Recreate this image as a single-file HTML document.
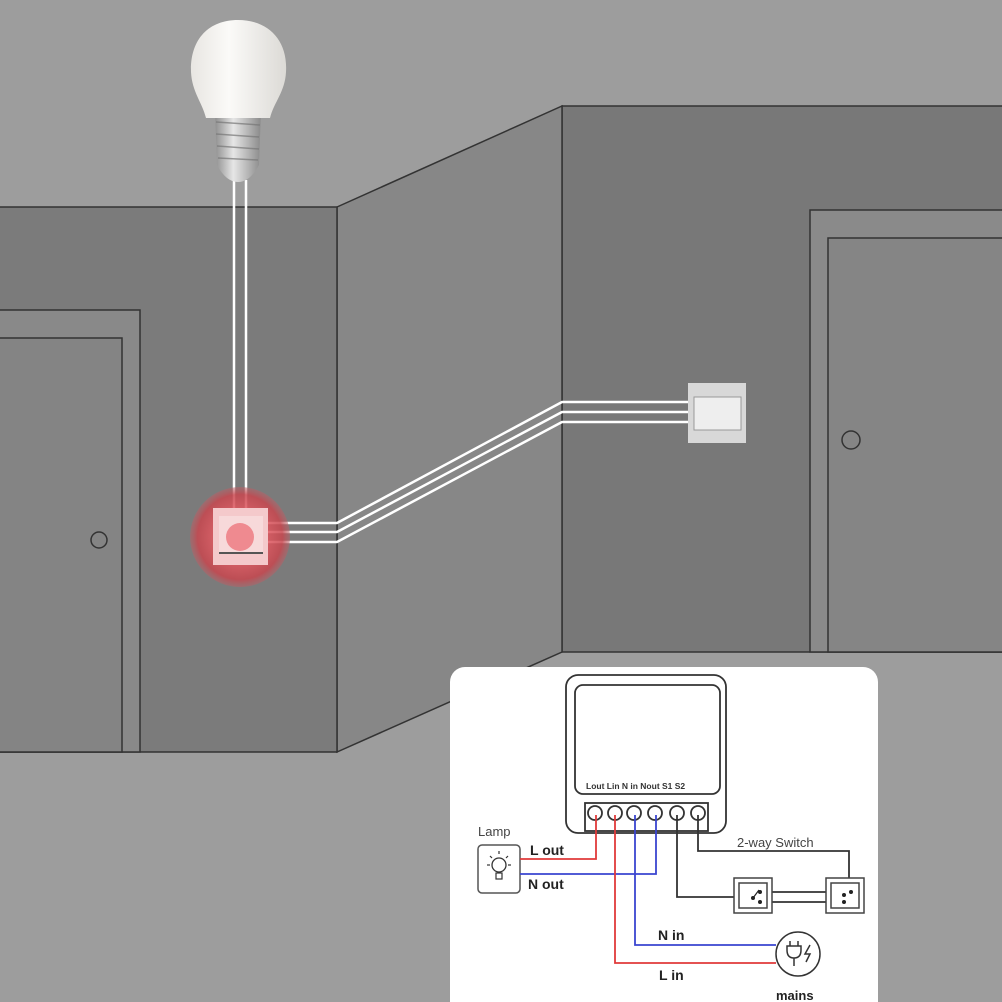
<!DOCTYPE html>
<html><head><meta charset="utf-8"><style>
html,body{margin:0;padding:0;background:#9b9b9b;}
svg{display:block}
text{font-family:"Liberation Sans",sans-serif}
</style></head><body>
<svg width="1002" height="1002" viewBox="0 0 1002 1002" xmlns="http://www.w3.org/2000/svg">
<defs>
<radialGradient id="glow" cx="0.5" cy="0.5" r="0.5">
<stop offset="0.5" stop-color="#e45a62"/><stop offset="0.85" stop-color="#c8464e"/><stop offset="1" stop-color="#b86066" stop-opacity="0.6"/>
</radialGradient>
<linearGradient id="bulb" x1="0" y1="0" x2="1" y2="0">
<stop offset="0" stop-color="#e8e6e2"/><stop offset="0.4" stop-color="#fbfaf8"/><stop offset="1" stop-color="#dcdad6"/>
</linearGradient>
<linearGradient id="base" x1="0" y1="0" x2="1" y2="0">
<stop offset="0" stop-color="#8f8f8f"/><stop offset="0.4" stop-color="#e6e6e6"/><stop offset="1" stop-color="#8a8a8a"/>
</linearGradient>
</defs>
<rect width="1002" height="1002" fill="#9d9d9d"/>
<rect x="562" y="106" width="442" height="546" fill="#787878" stroke="#333" stroke-width="1.5"/>
<polygon points="337,207 562,106 562,652 337,752" fill="#878787" stroke="#333" stroke-width="1.5"/>
<rect x="-2" y="207" width="339" height="545" fill="#7b7b7b" stroke="#333" stroke-width="1.5"/>
<rect x="-2" y="310" width="142" height="442" fill="#898989" stroke="#333" stroke-width="1.5"/>
<rect x="-2" y="338" width="124" height="414" fill="#848484" stroke="#333" stroke-width="1.5"/>
<circle cx="99" cy="540" r="8" fill="none" stroke="#333" stroke-width="1.5"/>
<rect x="810" y="210" width="194" height="442" fill="#8a8a8a" stroke="#333" stroke-width="1.5"/>
<rect x="828" y="238" width="176" height="414" fill="#858585" stroke="#333" stroke-width="1.5"/>
<circle cx="851" cy="440" r="9" fill="none" stroke="#333" stroke-width="1.5"/>
<line x1="234" y1="180" x2="234" y2="510" stroke="#fff" stroke-width="2.5"/>
<line x1="246" y1="180" x2="246" y2="510" stroke="#fff" stroke-width="2.5"/>
<path d="M215,110 L261,110 L259,165 Q250,182 238,182 Q226,182 217,165 Z" fill="url(#base)"/>
<g stroke="#777" stroke-width="1.5" opacity="0.7">
<line x1="216" y1="122" x2="260" y2="125"/><line x1="216" y1="134" x2="259" y2="137"/><line x1="217" y1="146" x2="259" y2="149"/><line x1="218" y1="158" x2="258" y2="160"/>
</g>
<path d="M238,20 C268,20 288,40 286,72 C285,92 274,102 270,118 L206,118 C202,102 192,92 191,72 C190,40 208,20 238,20 Z" fill="url(#bulb)"/>
<g fill="none" stroke="#fff" stroke-width="2.5">
<polyline points="268,523 337,523 562,402 690,402"/>
<polyline points="268,532 337,532 562,412 690,412"/>
<polyline points="268,542 337,542 562,422 690,422"/>
</g>
<circle cx="240" cy="537" r="50" fill="url(#glow)" opacity="0.85"/>
<rect x="213" y="508" width="55" height="57" fill="#f4c9cb"/>
<rect x="219" y="516" width="44" height="38" fill="#f7d9da"/>
<circle cx="240" cy="537" r="14" fill="#ef8a90"/>
<line x1="219" y1="553" x2="263" y2="553" stroke="#555" stroke-width="2"/>
<rect x="688" y="383" width="58" height="60" fill="#d8d8d8"/>
<rect x="694" y="397" width="47" height="33" fill="#eeeeee" stroke="#999" stroke-width="1"/>
<rect x="450" y="667" width="428" height="360" rx="15" fill="#fff"/>
<g fill="none" stroke="#333" stroke-width="1.8">
<rect x="566" y="675" width="160" height="158" rx="12"/>
<rect x="575" y="685" width="145" height="109" rx="8"/>
<rect x="585" y="803" width="123" height="28"/>
<circle cx="595" cy="813" r="7"/><circle cx="615" cy="813" r="7"/><circle cx="634" cy="813" r="7"/><circle cx="655" cy="813" r="7"/><circle cx="677" cy="813" r="7"/><circle cx="698" cy="813" r="7"/>
</g>
<text x="586" y="789" font-size="8.5" font-weight="bold" fill="#333">Lout Lin  N in Nout S1   S2</text>
<rect x="478" y="845" width="42" height="48" rx="4" fill="#fff" stroke="#555" stroke-width="1.5"/>
<circle cx="499" cy="865" r="7" fill="none" stroke="#333" stroke-width="1.3"/>
<rect x="496" y="873" width="6" height="6" fill="none" stroke="#333" stroke-width="1.2"/>
<g stroke="#333" stroke-width="1.2"><line x1="499" y1="851" x2="499" y2="854"/><line x1="487" y1="865" x2="490" y2="865"/><line x1="508" y1="865" x2="511" y2="865"/><line x1="490" y1="856" x2="492" y2="858"/><line x1="508" y1="856" x2="506" y2="858"/></g>
<text x="478" y="836" font-size="13" fill="#444">Lamp</text>
<g fill="none" stroke-width="1.8">
<polyline points="520,859 596,859 596,815" stroke="#e03a3a"/>
<polyline points="520,874 656,874 656,815" stroke="#3a45d0"/>
<polyline points="615,815 615,963 776,963" stroke="#e03a3a"/>
<polyline points="635,815 635,945 776,945" stroke="#3a45d0"/>
<polyline points="677,815 677,897 735,897" stroke="#333"/>
<polyline points="698,815 698,851 849,851 849,888" stroke="#333"/>
<line x1="763" y1="892" x2="839" y2="892" stroke="#333"/>
<line x1="763" y1="902" x2="839" y2="902" stroke="#333"/>
</g>
<text x="530" y="855" font-size="14" font-weight="bold" fill="#222">L out</text>
<text x="528" y="889" font-size="14" font-weight="bold" fill="#222">N out</text>
<text x="658" y="940" font-size="14" font-weight="bold" fill="#222">N in</text>
<text x="659" y="980" font-size="14" font-weight="bold" fill="#222">L in</text>
<text x="737" y="847" font-size="13" fill="#444">2-way Switch</text>
<g fill="#fff" stroke="#444" stroke-width="1.5">
<rect x="734" y="878" width="38" height="35"/><rect x="739" y="883" width="28" height="25"/>
<rect x="826" y="878" width="38" height="35"/><rect x="831" y="883" width="28" height="25"/>
</g>
<g fill="#222"><circle cx="760" cy="892" r="2"/><circle cx="760" cy="902" r="2"/><circle cx="753" cy="898" r="2"/><circle cx="851" cy="892" r="2"/><circle cx="844" cy="902" r="2"/><circle cx="844" cy="895" r="2"/></g>
<line x1="753" y1="898" x2="759" y2="890" stroke="#222" stroke-width="1.2"/>
<circle cx="798" cy="954" r="22" fill="#fff" stroke="#333" stroke-width="1.5"/>
<path d="M787,946 h14 v4 q0,8 -7,8 q-7,0 -7,-8 z M794,958 v8 M790,946 v-5 M798,946 v-5" fill="none" stroke="#333" stroke-width="1.5"/>
<path d="M810,945 l-5,9 h5 l-4,8" fill="none" stroke="#333" stroke-width="1.5"/>
<text x="776" y="1000" font-size="13" font-weight="bold" fill="#222">mains</text>
</svg>
</body></html>
